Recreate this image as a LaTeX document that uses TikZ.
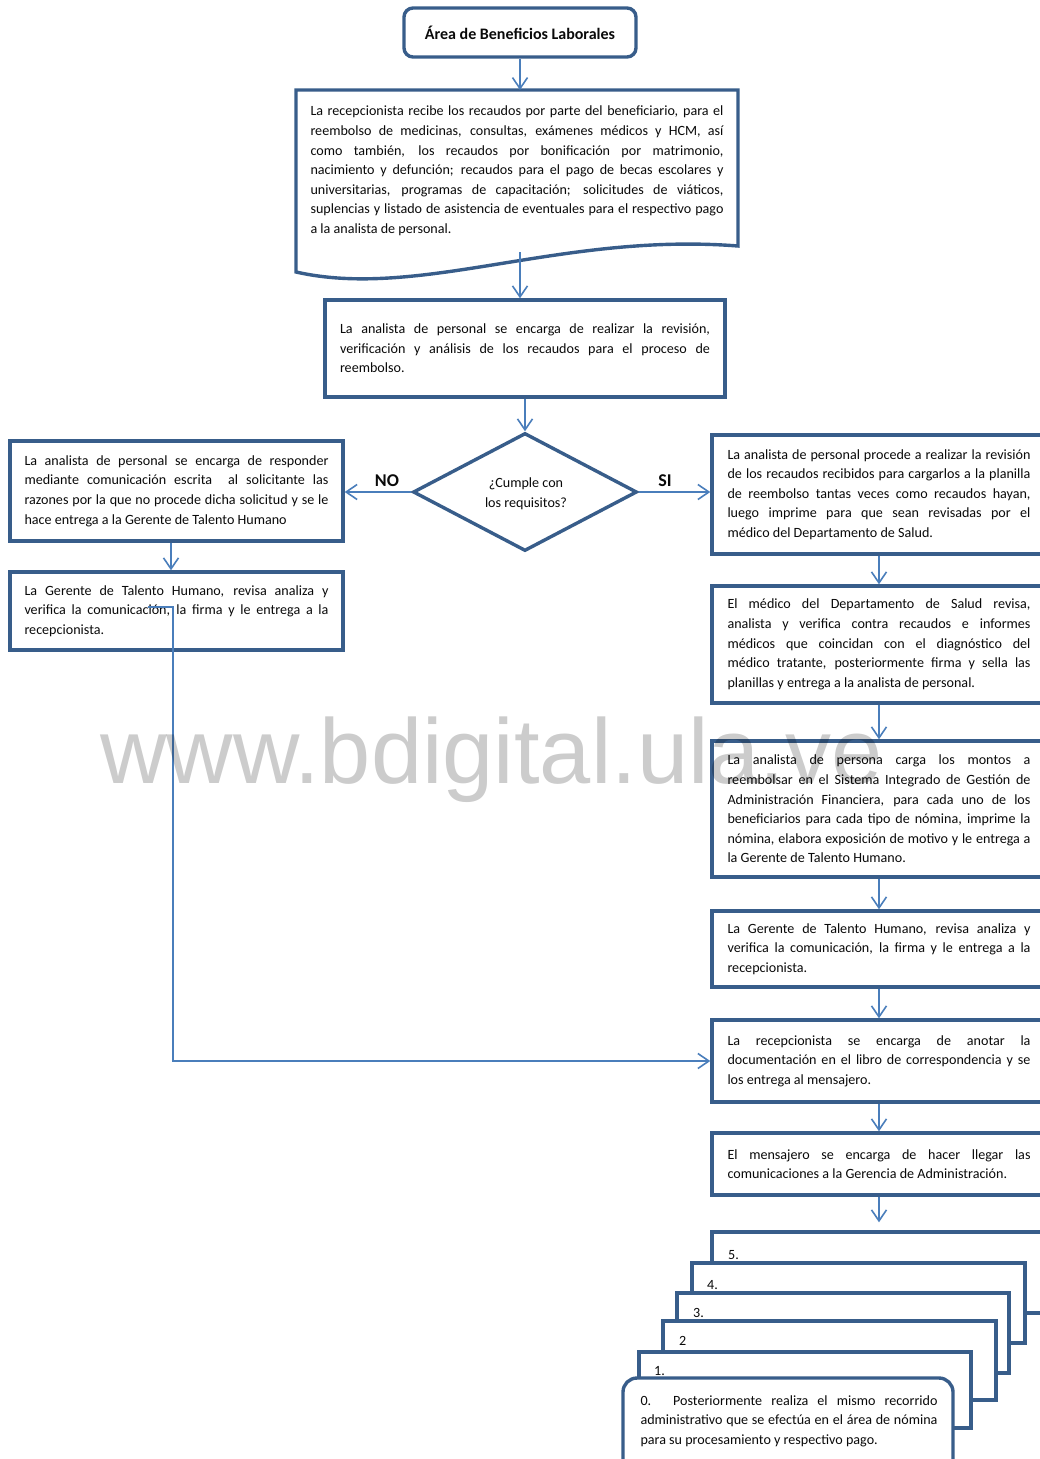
\documentclass[tikz,border=0pt]{standalone}
\usepackage{fontspec}
\setmainfont{Carlito}
\newfontfamily\wmfont{Liberation Sans}
\usetikzlibrary{arrows.meta,shapes.geometric}
\definecolor{boxblue}{RGB}{56,93,138}
\definecolor{arrowblue}{RGB}{74,126,187}
\definecolor{ink}{RGB}{10,10,10}
\tolerance=10000
\hyphenpenalty=10000
\exhyphenpenalty=10000

\begin{document}
\begin{tikzpicture}[x=1pt,y=-1pt,
  txt/.style={font=\fontsize{14.1}{19.6}\selectfont, text=ink},
  box/.style={txt, draw=boxblue, line width=3.4pt, fill=white, inner sep=0pt, align=justify, rectangle},
  stackbox/.style={draw=boxblue, line width=3.4pt, fill=white, inner sep=0pt, rectangle},
  arr/.style={draw=arrowblue, line width=1.6pt, -{Straight Barb[length=11pt,width=15pt]}},
  lab/.style={font=\bfseries\fontsize{18}{20}\selectfont, text=ink, inner sep=0pt},
  numlab/.style={txt, anchor=west, inner sep=0pt},
]
\useasboundingbox (0,0) rectangle (1040,1459);

% title
\node[box, rounded corners=9pt, minimum width=232pt, minimum height=49pt,
      font=\bfseries\fontsize{16}{19}\selectfont, align=center] (title) at (520,32.5)
  {Área de Beneficios Laborales};

% document shape with wavy bottom
\draw[draw=boxblue, line width=3.4pt, fill=white, line join=miter]
  (296,90) -- (738,90) -- (738,246) .. controls (560,232) and (420,300) .. (296,272) -- cycle;
\coordinate (doctop) at (520,90);
\coordinate (docwave) at (520,252);
\node[txt, align=justify, text width=413pt, inner sep=0pt] (recv) at (517,171)
  {La recepcionista recibe los recaudos por parte del beneficiario, para el \linebreak
   reembolso de medicinas, consultas, exámenes médicos y HCM, así \linebreak
   como también, los recaudos por bonificación por matrimonio, \linebreak
   nacimiento y defunción; recaudos para el pago de becas escolares y \linebreak
   universitarias, programas de capacitación; solicitudes de viáticos, \linebreak
   suplencias y listado de asistencia de eventuales para el respectivo pago \linebreak
   a la analista de personal.};

\node[box, minimum width=400pt, minimum height=97pt, text width=370pt] (analisis) at (525,348.5)
  {La analista de personal se encarga de realizar la revisión, \linebreak
   verificación y análisis de los recaudos para el proceso de \linebreak
   reembolso.};

\node[draw=boxblue, line width=3.4pt, fill=white, diamond, aspect=1.9,
      minimum width=224pt, minimum height=118pt, inner sep=0pt]
  (cumple) at (525,492) {};
\node[txt, align=center, inner sep=0pt] (cumpletxt) at (526,494) {¿Cumple con\\los requisitos?};

\node[lab] (no) at (387,481) {NO};
\node[lab] (si) at (665,481) {SI};

% left branch
\node[box, minimum width=333pt, minimum height=100pt, text width=304pt] (responde) at (176.5,491)
  {La analista de personal se encarga de responder \linebreak
   mediante comunicación escrita \ al solicitante las \linebreak
   razones por la que no procede dicha solicitud y se le \linebreak
   hace entrega a la Gerente de Talento Humano};

\node[box, minimum width=333pt, minimum height=78pt, text width=304pt] (gerente1) at (176.5,611)
  {La Gerente de Talento Humano, revisa analiza y \linebreak
   verifica la comunicación, la firma y le entrega a la \linebreak
   recepcionista.};

% right branch
\node[box, minimum width=334pt, minimum height=119pt, text width=303pt] (revision) at (879,494.5)
  {La analista de personal procede a realizar la revisión \linebreak
   de los recaudos recibidos para cargarlos a la planilla \linebreak
   de reembolso tantas veces como recaudos hayan, \linebreak
   luego imprime para que sean revisadas por el \linebreak
   médico del Departamento de Salud.};

\node[box, minimum width=334pt, minimum height=117pt, text width=303pt] (medico) at (879,644.5)
  {El médico del Departamento de Salud revisa, \linebreak
   analista y verifica contra recaudos e informes \linebreak
   médicos que coincidan con el diagnóstico del \linebreak
   médico tratante, posteriormente firma y sella las \linebreak
   planillas y entrega a la analista de personal.};

\node[box, minimum width=334pt, minimum height=136pt, text width=303pt] (carga) at (879,809)
  {La analista de persona carga los montos a \linebreak
   reembolsar en el Sistema Integrado de Gestión de \linebreak
   Administración Financiera, para cada uno de los \linebreak
   beneficiarios para cada tipo de nómina, imprime la \linebreak
   nómina, elabora exposición de motivo y le entrega a \linebreak
   la Gerente de Talento Humano.};

\node[box, minimum width=334pt, minimum height=76pt, text width=303pt] (gerente2) at (879,949)
  {La Gerente de Talento Humano, revisa analiza y \linebreak
   verifica la comunicación, la firma y le entrega a la \linebreak
   recepcionista.};

\node[box, minimum width=334pt, minimum height=82pt, text width=303pt] (recep) at (879,1061)
  {La recepcionista se encarga de anotar la \linebreak
   documentación en el libro de correspondencia y se \linebreak
   los entrega al mensajero.};

\node[box, minimum width=334pt, minimum height=62pt, text width=303pt] (mensajero) at (879,1164)
  {El mensajero se encarga de hacer llegar las \linebreak
   comunicaciones a la Gerencia de Administración.};

% stacked pages, back to front
\node[stackbox, minimum width=334pt, minimum height=81pt] (stack5) at (879,1272.5) {};
\node[numlab] (n5) at (728,1255) {5.};
\node[stackbox, minimum width=333pt, minimum height=80pt] (stack4) at (858.5,1303) {};
\node[numlab] (n4) at (707,1285) {4.};
\node[stackbox, minimum width=332pt, minimum height=80pt] (stack3) at (843,1333) {};
\node[numlab] (n3) at (693,1313) {3.};
\node[stackbox, minimum width=333pt, minimum height=79pt] (stack2) at (829.5,1360.5) {};
\node[numlab] (n2) at (679,1341) {2};
\node[stackbox, minimum width=332pt, minimum height=76pt] (stack1) at (805,1390) {};
\node[numlab] (n1) at (654,1371) {1.};
\node[stackbox, rounded corners=14pt, minimum width=330pt, minimum height=97pt] (stack0) at (788,1426.5) {};
\node[txt, align=justify, text width=297pt, inner sep=0pt] (final) at (789,1421)
  {0. Posteriormente realiza el mismo recorrido \linebreak
   administrativo que se efectúa en el área de nómina \linebreak
   para su procesamiento y respectivo pago.};

% connectors
\draw[arr] (title.south) -- (doctop);
\draw[arr] (docwave) -- (docwave |- analisis.north);
\draw[arr] (analisis.south) -- (cumple.north);
\draw[arr] (cumple.west) -- (cumple.west -| responde.east);
\draw[arr] (cumple.east) -- (cumple.east -| revision.west);
\coordinate (lx) at (171,0);
\draw[arr] (responde.south -| lx) -- (gerente1.north -| lx);
\draw[arr] (revision.south) -- (medico.north);
\draw[arr] (medico.south) -- (carga.north);
\draw[arr] (carga.south) -- (gerente2.north);
\draw[arr] (gerente2.south) -- (recep.north);
\draw[arr] (recep.south) -- (mensajero.north);
\draw[arr, shorten >=8pt] (mensajero.south) -- (stack5.north);
\coordinate (loopstart) at (148,607);
\draw[arr] (loopstart) -- ++(25,0) |- (recep.west);

% watermark
\node[font=\wmfont\fontsize{92}{92}\selectfont, text=black, opacity=0.2,
      anchor=base west, inner sep=0pt] (wm) at (100,783) {www.bdigital.ula.ve};
\end{tikzpicture}
\end{document}
